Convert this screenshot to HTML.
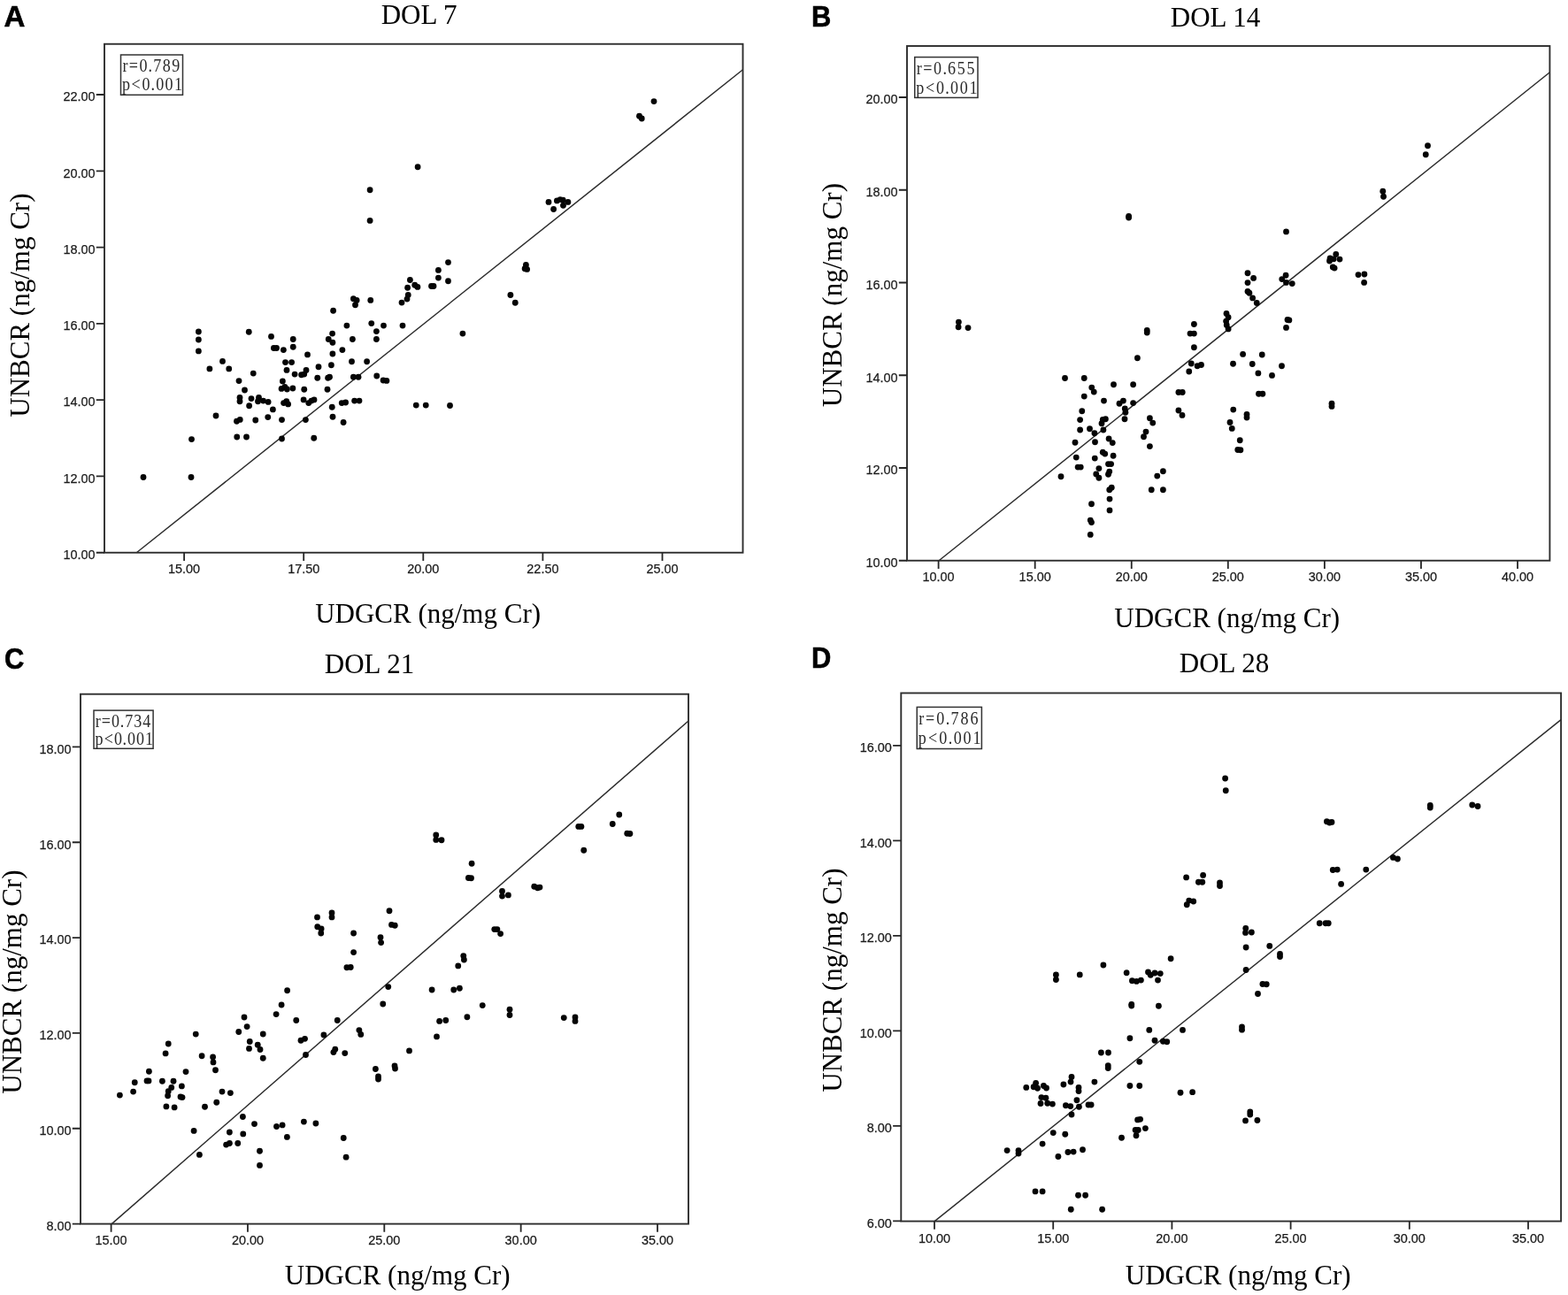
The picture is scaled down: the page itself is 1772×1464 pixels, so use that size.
<!DOCTYPE html>
<html><head><meta charset="utf-8"><title>UNBCR vs UDGCR</title>
<style>
html,body{margin:0;padding:0;background:#fff;}
svg{display:block;}
.tk{font-family:"Liberation Sans",Arial,sans-serif;font-size:15.3px;fill:#1a1a1a;stroke:#1a1a1a;stroke-width:0.25px;}
.ser{font-family:"Liberation Serif","Times New Roman",serif;fill:#000;}
.st{font-family:"Liberation Serif","Times New Roman",serif;font-size:21px;fill:#2a2a2a;}
.lt{font-family:"Liberation Sans",Arial,sans-serif;font-weight:bold;font-size:33px;fill:#000;stroke:#000;stroke-width:0.6px;}
</style></head><body>
<svg width="1772" height="1464" viewBox="0 0 1772 1464">
<rect x="0" y="0" width="1772" height="1464" fill="#fff"/>
<g id="panelA">
<text class="lt" x="4.6" y="30">A</text>
<text class="ser" font-size="31" x="473.6" y="26.6" text-anchor="middle">DOL 7</text>
<line x1="154.3" y1="624.75" x2="839.5" y2="78.8" stroke="#2c2c2c" stroke-width="1.45"/>
<g fill="#050505"><circle cx="224.4" cy="375" r="3.4"/><circle cx="224.4" cy="384" r="3.4"/><circle cx="224.4" cy="396.9" r="3.4"/><circle cx="281.25" cy="375.25" r="3.4"/><circle cx="306.5" cy="380.4" r="3.4"/><circle cx="331.25" cy="383.5" r="3.4"/><circle cx="309.4" cy="393.5" r="3.4"/><circle cx="312.5" cy="393.5" r="3.4"/><circle cx="320.4" cy="395.6" r="3.4"/><circle cx="331.25" cy="392.25" r="3.4"/><circle cx="347.5" cy="400.9" r="3.4"/><circle cx="251.5" cy="408.4" r="3.4"/><circle cx="236.9" cy="416.9" r="3.4"/><circle cx="258.75" cy="416.9" r="3.4"/><circle cx="286.25" cy="422.1" r="3.4"/><circle cx="322.5" cy="409.6" r="3.4"/><circle cx="329.6" cy="409.6" r="3.4"/><circle cx="324" cy="418.4" r="3.4"/><circle cx="333.1" cy="423.1" r="3.4"/><circle cx="340.6" cy="423.75" r="3.4"/><circle cx="343.75" cy="423.1" r="3.4"/><circle cx="346" cy="418.5" r="3.4"/><circle cx="360" cy="414.75" r="3.4"/><circle cx="358.75" cy="427.25" r="3.4"/><circle cx="270" cy="430.6" r="3.4"/><circle cx="319.4" cy="431" r="3.4"/><circle cx="318.1" cy="439.4" r="3.4"/><circle cx="321.9" cy="437.5" r="3.4"/><circle cx="324.4" cy="440" r="3.4"/><circle cx="330.9" cy="439" r="3.4"/><circle cx="343.75" cy="440.25" r="3.4"/><circle cx="276.5" cy="441" r="3.4"/><circle cx="271" cy="449.4" r="3.4"/><circle cx="271" cy="453.75" r="3.4"/><circle cx="284" cy="450.6" r="3.4"/><circle cx="292.5" cy="449.4" r="3.4"/><circle cx="291.5" cy="453.75" r="3.4"/><circle cx="297.5" cy="453.1" r="3.4"/><circle cx="303.1" cy="454.4" r="3.4"/><circle cx="323.75" cy="453.75" r="3.4"/><circle cx="325.6" cy="456.9" r="3.4"/><circle cx="320.6" cy="455.6" r="3.4"/><circle cx="343.1" cy="451.9" r="3.4"/><circle cx="348.75" cy="455.6" r="3.4"/><circle cx="351.9" cy="453.1" r="3.4"/><circle cx="355" cy="451.9" r="3.4"/><circle cx="281.6" cy="458.75" r="3.4"/><circle cx="308.4" cy="462.9" r="3.4"/><circle cx="244" cy="470" r="3.4"/><circle cx="267.5" cy="476.25" r="3.4"/><circle cx="271.25" cy="474.4" r="3.4"/><circle cx="288.75" cy="475" r="3.4"/><circle cx="302.75" cy="471.6" r="3.4"/><circle cx="318.5" cy="474.6" r="3.4"/><circle cx="345.4" cy="474.6" r="3.4"/><circle cx="216.5" cy="496.6" r="3.4"/><circle cx="267.75" cy="494" r="3.4"/><circle cx="278.5" cy="494" r="3.4"/><circle cx="318.5" cy="496" r="3.4"/><circle cx="354.75" cy="495.25" r="3.4"/><circle cx="399.4" cy="337.75" r="3.4"/><circle cx="403.1" cy="339.4" r="3.4"/><circle cx="401.5" cy="344.75" r="3.4"/><circle cx="418.75" cy="339.4" r="3.4"/><circle cx="461.25" cy="333.5" r="3.4"/><circle cx="460" cy="338.1" r="3.4"/><circle cx="454" cy="342.1" r="3.4"/><circle cx="376.6" cy="351.25" r="3.4"/><circle cx="391.9" cy="368.1" r="3.4"/><circle cx="419.75" cy="365.6" r="3.4"/><circle cx="433.5" cy="368.1" r="3.4"/><circle cx="455" cy="368.1" r="3.4"/><circle cx="425.4" cy="374.6" r="3.4"/><circle cx="425.4" cy="383.5" r="3.4"/><circle cx="522.9" cy="377.1" r="3.4"/><circle cx="375.6" cy="377.1" r="3.4"/><circle cx="371.25" cy="383.5" r="3.4"/><circle cx="375.9" cy="387.25" r="3.4"/><circle cx="398.4" cy="383.5" r="3.4"/><circle cx="386.9" cy="395.6" r="3.4"/><circle cx="375.9" cy="400" r="3.4"/><circle cx="397.5" cy="408.75" r="3.4"/><circle cx="414.6" cy="408.75" r="3.4"/><circle cx="374.4" cy="412.75" r="3.4"/><circle cx="370.6" cy="427.25" r="3.4"/><circle cx="372.5" cy="426.25" r="3.4"/><circle cx="399.4" cy="426.25" r="3.4"/><circle cx="405" cy="426.25" r="3.4"/><circle cx="425.75" cy="425" r="3.4"/><circle cx="433.1" cy="430" r="3.4"/><circle cx="436.9" cy="430.4" r="3.4"/><circle cx="370" cy="440.25" r="3.4"/><circle cx="386.25" cy="455.6" r="3.4"/><circle cx="390.6" cy="455" r="3.4"/><circle cx="400.6" cy="453.1" r="3.4"/><circle cx="406" cy="453.1" r="3.4"/><circle cx="375.25" cy="460.25" r="3.4"/><circle cx="470.25" cy="458.1" r="3.4"/><circle cx="481.25" cy="458.1" r="3.4"/><circle cx="508.5" cy="458.5" r="3.4"/><circle cx="376" cy="471.25" r="3.4"/><circle cx="388.1" cy="477.5" r="3.4"/><circle cx="472.1" cy="188.75" r="3.4"/><circle cx="418.1" cy="214.75" r="3.4"/><circle cx="418.1" cy="249.4" r="3.4"/><circle cx="506.5" cy="296.6" r="3.4"/><circle cx="495.4" cy="305.4" r="3.4"/><circle cx="495.4" cy="314.1" r="3.4"/><circle cx="506.5" cy="317.75" r="3.4"/><circle cx="487.5" cy="323.5" r="3.4"/><circle cx="490" cy="323.5" r="3.4"/><circle cx="463.4" cy="316.5" r="3.4"/><circle cx="468.75" cy="322.25" r="3.4"/><circle cx="471.9" cy="324.4" r="3.4"/><circle cx="460.6" cy="325.25" r="3.4"/><circle cx="620" cy="228.4" r="3.4"/><circle cx="625.6" cy="236.5" r="3.4"/><circle cx="629.4" cy="226.9" r="3.4"/><circle cx="633.1" cy="225.6" r="3.4"/><circle cx="636.25" cy="226.25" r="3.4"/><circle cx="636.5" cy="232.25" r="3.4"/><circle cx="641.9" cy="228.4" r="3.4"/><circle cx="594.4" cy="299.4" r="3.4"/><circle cx="593.1" cy="303.75" r="3.4"/><circle cx="595.6" cy="304.4" r="3.4"/><circle cx="576.9" cy="333.5" r="3.4"/><circle cx="582.25" cy="342.25" r="3.4"/><circle cx="739" cy="114.6" r="3.4"/><circle cx="722.5" cy="131.25" r="3.4"/><circle cx="725.25" cy="134" r="3.4"/><circle cx="162" cy="539.5" r="3.4"/><circle cx="216" cy="539.5" r="3.4"/></g>
<rect x="118" y="49.75" width="721.5" height="575" fill="none" stroke="#2e2e2e" stroke-width="1.9"/>
<text class="tk" x="107.5" y="114.3" text-anchor="end" textLength="36.1" lengthAdjust="spacingAndGlyphs">22.00</text>
<text class="tk" x="107.5" y="200.59" text-anchor="end" textLength="36.1" lengthAdjust="spacingAndGlyphs">20.00</text>
<text class="tk" x="107.5" y="286.88" text-anchor="end" textLength="36.1" lengthAdjust="spacingAndGlyphs">18.00</text>
<text class="tk" x="107.5" y="373.17" text-anchor="end" textLength="36.1" lengthAdjust="spacingAndGlyphs">16.00</text>
<text class="tk" x="107.5" y="459.46" text-anchor="end" textLength="36.1" lengthAdjust="spacingAndGlyphs">14.00</text>
<text class="tk" x="107.5" y="545.75" text-anchor="end" textLength="36.1" lengthAdjust="spacingAndGlyphs">12.00</text>
<text class="tk" x="107.5" y="632.04" text-anchor="end" textLength="36.1" lengthAdjust="spacingAndGlyphs">10.00</text>
<text class="tk" x="208.1" y="648.15" text-anchor="middle" textLength="36.1" lengthAdjust="spacingAndGlyphs">15.00</text>
<text class="tk" x="343.2" y="648.15" text-anchor="middle" textLength="36.1" lengthAdjust="spacingAndGlyphs">17.50</text>
<text class="tk" x="478.3" y="648.15" text-anchor="middle" textLength="36.1" lengthAdjust="spacingAndGlyphs">20.00</text>
<text class="tk" x="613.4" y="648.15" text-anchor="middle" textLength="36.1" lengthAdjust="spacingAndGlyphs">22.50</text>
<text class="tk" x="748.5" y="648.15" text-anchor="middle" textLength="36.1" lengthAdjust="spacingAndGlyphs">25.00</text>
<path d="M108.8 107H118M108.8 193.29H118M108.8 279.58H118M108.8 365.87H118M108.8 452.16H118M108.8 538.45H118M108.8 624.74H118M208.1 624.75V633.95M343.2 624.75V633.95M478.3 624.75V633.95M613.4 624.75V633.95M748.5 624.75V633.95" stroke="#262626" stroke-width="1.8" fill="none"/>
<rect x="136.5" y="62" width="70" height="45.3" fill="none" stroke="#333" stroke-width="1.5"/>
<text class="st" font-size="21" transform="scale(0.86 1)" x="160.92 169.44 183.11 194.89 201.42 213.63 225.84" y="80.9">r=0.789</text>
<text class="st" font-size="21" transform="scale(0.86 1)" x="160.51 172.82 186.49 198.27 204.8 217.01 229.22" y="102.2">p&lt;0.001</text>
<text class="ser" font-size="31" x="483.6" y="703.8" text-anchor="middle">UDGCR (ng/mg Cr)</text>
<text class="ser" font-size="31" text-anchor="middle" transform="translate(32.7 345.1) rotate(-90)">UNBCR (ng/mg Cr)</text>
</g>
<g id="panelB">
<text class="lt" x="917.1" y="30" textLength="22.3" lengthAdjust="spacingAndGlyphs">B</text>
<text class="ser" font-size="31" x="1373.5" y="30.3" text-anchor="middle">DOL 14</text>
<line x1="1061.1" y1="633.75" x2="1751.4" y2="81.8" stroke="#2c2c2c" stroke-width="1.45"/>
<g fill="#050505"><circle cx="1203.5" cy="427.5" r="3.4"/><circle cx="1225.25" cy="427.5" r="3.4"/><circle cx="1258.5" cy="434.75" r="3.4"/><circle cx="1280.6" cy="434.75" r="3.4"/><circle cx="1233.75" cy="438.1" r="3.4"/><circle cx="1236.25" cy="443.1" r="3.4"/><circle cx="1225.25" cy="448.1" r="3.4"/><circle cx="1247.5" cy="453.1" r="3.4"/><circle cx="1265" cy="456.25" r="3.4"/><circle cx="1269.4" cy="453.1" r="3.4"/><circle cx="1280.6" cy="455.6" r="3.4"/><circle cx="1271.25" cy="461.9" r="3.4"/><circle cx="1271.9" cy="466.25" r="3.4"/><circle cx="1271" cy="473.75" r="3.4"/><circle cx="1331.9" cy="443.5" r="3.4"/><circle cx="1336.25" cy="443.5" r="3.4"/><circle cx="1331.9" cy="464" r="3.4"/><circle cx="1336" cy="469.4" r="3.4"/><circle cx="1222.75" cy="464.75" r="3.4"/><circle cx="1220.6" cy="474.6" r="3.4"/><circle cx="1246.25" cy="474.4" r="3.4"/><circle cx="1249.4" cy="473.75" r="3.4"/><circle cx="1245" cy="478.75" r="3.4"/><circle cx="1220.6" cy="486" r="3.4"/><circle cx="1231.5" cy="484.75" r="3.4"/><circle cx="1236.9" cy="489.75" r="3.4"/><circle cx="1246.9" cy="486" r="3.4"/><circle cx="1299.4" cy="472.75" r="3.4"/><circle cx="1302.75" cy="478.1" r="3.4"/><circle cx="1295" cy="488.1" r="3.4"/><circle cx="1292.5" cy="493.75" r="3.4"/><circle cx="1299.4" cy="504.6" r="3.4"/><circle cx="1393.75" cy="463.1" r="3.4"/><circle cx="1409" cy="468.5" r="3.4"/><circle cx="1409" cy="472" r="3.4"/><circle cx="1390" cy="477.5" r="3.4"/><circle cx="1392.25" cy="484.4" r="3.4"/><circle cx="1401.25" cy="497.75" r="3.4"/><circle cx="1398.75" cy="508.5" r="3.4"/><circle cx="1401.9" cy="508.75" r="3.4"/><circle cx="1215" cy="500.25" r="3.4"/><circle cx="1237.5" cy="499.75" r="3.4"/><circle cx="1253.1" cy="496" r="3.4"/><circle cx="1257.25" cy="500.6" r="3.4"/><circle cx="1246.25" cy="511.25" r="3.4"/><circle cx="1248.75" cy="513.1" r="3.4"/><circle cx="1258.1" cy="515.25" r="3.4"/><circle cx="1216.25" cy="517.1" r="3.4"/><circle cx="1237.25" cy="518.1" r="3.4"/><circle cx="1218.1" cy="528.1" r="3.4"/><circle cx="1221.25" cy="528.1" r="3.4"/><circle cx="1252.5" cy="524.6" r="3.4"/><circle cx="1255.6" cy="524.6" r="3.4"/><circle cx="1241.9" cy="529.6" r="3.4"/><circle cx="1238.75" cy="536" r="3.4"/><circle cx="1241.9" cy="540.25" r="3.4"/><circle cx="1253.75" cy="533.1" r="3.4"/><circle cx="1252.5" cy="536.25" r="3.4"/><circle cx="1199" cy="538.75" r="3.4"/><circle cx="1314.4" cy="532.75" r="3.4"/><circle cx="1307.75" cy="538.1" r="3.4"/><circle cx="1256.25" cy="551.25" r="3.4"/><circle cx="1253.75" cy="553.75" r="3.4"/><circle cx="1301.25" cy="553.75" r="3.4"/><circle cx="1314.4" cy="553.75" r="3.4"/><circle cx="1254" cy="564.1" r="3.4"/><circle cx="1233.5" cy="569.75" r="3.4"/><circle cx="1254" cy="576.9" r="3.4"/><circle cx="1232.25" cy="588.1" r="3.4"/><circle cx="1233.5" cy="590.6" r="3.4"/><circle cx="1232.25" cy="604.4" r="3.4"/><circle cx="1410" cy="308.75" r="3.4"/><circle cx="1416.6" cy="314.4" r="3.4"/><circle cx="1410" cy="319.6" r="3.4"/><circle cx="1410" cy="329.4" r="3.4"/><circle cx="1411.9" cy="331.25" r="3.4"/><circle cx="1415.6" cy="336.9" r="3.4"/><circle cx="1420.25" cy="342.5" r="3.4"/><circle cx="1453.1" cy="311.25" r="3.4"/><circle cx="1448.75" cy="315.6" r="3.4"/><circle cx="1453.5" cy="319.4" r="3.4"/><circle cx="1460.25" cy="320.6" r="3.4"/><circle cx="1503.1" cy="291.9" r="3.4"/><circle cx="1502.5" cy="295" r="3.4"/><circle cx="1509.75" cy="287.5" r="3.4"/><circle cx="1514" cy="293.1" r="3.4"/><circle cx="1507.2" cy="292.8" r="3.4"/><circle cx="1506.25" cy="301.9" r="3.4"/><circle cx="1508.1" cy="303.1" r="3.4"/><circle cx="1535" cy="310.6" r="3.4"/><circle cx="1541.9" cy="310" r="3.4"/><circle cx="1541.6" cy="319.4" r="3.4"/><circle cx="1386" cy="354.4" r="3.4"/><circle cx="1388.1" cy="358.75" r="3.4"/><circle cx="1385.6" cy="363.1" r="3.4"/><circle cx="1386.25" cy="367.5" r="3.4"/><circle cx="1388.1" cy="371.9" r="3.4"/><circle cx="1349.4" cy="366.5" r="3.4"/><circle cx="1345" cy="377.1" r="3.4"/><circle cx="1349.4" cy="377.1" r="3.4"/><circle cx="1349.4" cy="392.75" r="3.4"/><circle cx="1455" cy="361.5" r="3.4"/><circle cx="1456.9" cy="361.9" r="3.4"/><circle cx="1453.5" cy="370.4" r="3.4"/><circle cx="1404.6" cy="400.4" r="3.4"/><circle cx="1426.25" cy="401" r="3.4"/><circle cx="1346.25" cy="411" r="3.4"/><circle cx="1353.1" cy="413.75" r="3.4"/><circle cx="1357.5" cy="412.5" r="3.4"/><circle cx="1343.75" cy="420" r="3.4"/><circle cx="1393.5" cy="411.25" r="3.4"/><circle cx="1415.25" cy="411.5" r="3.4"/><circle cx="1448.5" cy="413.75" r="3.4"/><circle cx="1421.9" cy="421.9" r="3.4"/><circle cx="1437.5" cy="424.4" r="3.4"/><circle cx="1422.5" cy="445.25" r="3.4"/><circle cx="1426.9" cy="445.25" r="3.4"/><circle cx="1505" cy="456.25" r="3.4"/><circle cx="1505" cy="459.4" r="3.4"/><circle cx="1275.6" cy="244.5" r="3.4"/><circle cx="1275.6" cy="246" r="3.4"/><circle cx="1296.25" cy="373.5" r="3.4"/><circle cx="1296.25" cy="376" r="3.4"/><circle cx="1285.4" cy="404.75" r="3.4"/><circle cx="1083.4" cy="364.1" r="3.4"/><circle cx="1083.1" cy="369.75" r="3.4"/><circle cx="1094" cy="370.6" r="3.4"/><circle cx="1613.5" cy="164.75" r="3.4"/><circle cx="1611.25" cy="174.75" r="3.4"/><circle cx="1562.75" cy="216.25" r="3.4"/><circle cx="1563.5" cy="222.25" r="3.4"/><circle cx="1453.5" cy="261.9" r="3.4"/></g>
<rect x="1025" y="52" width="726.4" height="581.75" fill="none" stroke="#2e2e2e" stroke-width="1.9"/>
<text class="tk" x="1014.5" y="117.3" text-anchor="end" textLength="36.1" lengthAdjust="spacingAndGlyphs">20.00</text>
<text class="tk" x="1014.5" y="222.05" text-anchor="end" textLength="36.1" lengthAdjust="spacingAndGlyphs">18.00</text>
<text class="tk" x="1014.5" y="326.8" text-anchor="end" textLength="36.1" lengthAdjust="spacingAndGlyphs">16.00</text>
<text class="tk" x="1014.5" y="431.55" text-anchor="end" textLength="36.1" lengthAdjust="spacingAndGlyphs">14.00</text>
<text class="tk" x="1014.5" y="536.3" text-anchor="end" textLength="36.1" lengthAdjust="spacingAndGlyphs">12.00</text>
<text class="tk" x="1014.5" y="641.05" text-anchor="end" textLength="36.1" lengthAdjust="spacingAndGlyphs">10.00</text>
<text class="tk" x="1060.6" y="657.15" text-anchor="middle" textLength="36.1" lengthAdjust="spacingAndGlyphs">10.00</text>
<text class="tk" x="1169.67" y="657.15" text-anchor="middle" textLength="36.1" lengthAdjust="spacingAndGlyphs">15.00</text>
<text class="tk" x="1278.74" y="657.15" text-anchor="middle" textLength="36.1" lengthAdjust="spacingAndGlyphs">20.00</text>
<text class="tk" x="1387.81" y="657.15" text-anchor="middle" textLength="36.1" lengthAdjust="spacingAndGlyphs">25.00</text>
<text class="tk" x="1496.88" y="657.15" text-anchor="middle" textLength="36.1" lengthAdjust="spacingAndGlyphs">30.00</text>
<text class="tk" x="1605.95" y="657.15" text-anchor="middle" textLength="36.1" lengthAdjust="spacingAndGlyphs">35.00</text>
<text class="tk" x="1715.02" y="657.15" text-anchor="middle" textLength="36.1" lengthAdjust="spacingAndGlyphs">40.00</text>
<path d="M1015.8 110H1025M1015.8 214.75H1025M1015.8 319.5H1025M1015.8 424.25H1025M1015.8 529H1025M1015.8 633.75H1025M1060.6 633.75V642.95M1169.67 633.75V642.95M1278.74 633.75V642.95M1387.81 633.75V642.95M1496.88 633.75V642.95M1605.95 633.75V642.95M1715.02 633.75V642.95" stroke="#262626" stroke-width="1.8" fill="none"/>
<rect x="1033.75" y="64.6" width="71.25" height="45.8" fill="none" stroke="#333" stroke-width="1.5"/>
<text class="st" font-size="21.38" transform="scale(0.86 1)" x="1204.27 1212.95 1226.86 1238.85 1245.5 1257.92 1270.35" y="84">r=0.655</text>
<text class="st" font-size="21.38" transform="scale(0.86 1)" x="1203.85 1216.39 1230.3 1242.29 1248.94 1261.37 1273.79" y="105.6">p&lt;0.001</text>
<text class="ser" font-size="31" x="1386.75" y="709.2" text-anchor="middle">UDGCR (ng/mg Cr)</text>
<text class="ser" font-size="31" text-anchor="middle" transform="translate(951 333.6) rotate(-90)">UNBCR (ng/mg Cr)</text>
</g>
<g id="panelC">
<text class="lt" x="4.9" y="755.5" textLength="22.3" lengthAdjust="spacingAndGlyphs">C</text>
<text class="ser" font-size="31" x="417.5" y="761" text-anchor="middle">DOL 21</text>
<line x1="126.25" y1="1383.6" x2="778" y2="815" stroke="#2c2c2c" stroke-width="1.45"/>
<g fill="#050505"><circle cx="318.1" cy="1136" r="3.4"/><circle cx="312.1" cy="1146.6" r="3.4"/><circle cx="334.75" cy="1153.5" r="3.4"/><circle cx="276" cy="1150" r="3.4"/><circle cx="279.1" cy="1160.6" r="3.4"/><circle cx="269.75" cy="1166.5" r="3.4"/><circle cx="297.25" cy="1169" r="3.4"/><circle cx="282.25" cy="1177.5" r="3.4"/><circle cx="281.5" cy="1185.4" r="3.4"/><circle cx="291.25" cy="1181.25" r="3.4"/><circle cx="294" cy="1186.5" r="3.4"/><circle cx="297.25" cy="1196.25" r="3.4"/><circle cx="340" cy="1176.25" r="3.4"/><circle cx="344.5" cy="1174.3" r="3.4"/><circle cx="345.5" cy="1192.5" r="3.4"/><circle cx="221.25" cy="1169.1" r="3.4"/><circle cx="190.25" cy="1180" r="3.4"/><circle cx="187.1" cy="1190.9" r="3.4"/><circle cx="228.1" cy="1193.75" r="3.4"/><circle cx="240.6" cy="1195" r="3.4"/><circle cx="241" cy="1200.9" r="3.4"/><circle cx="243.5" cy="1209.75" r="3.4"/><circle cx="210" cy="1211.6" r="3.4"/><circle cx="168.4" cy="1211.25" r="3.4"/><circle cx="166" cy="1221.9" r="3.4"/><circle cx="168" cy="1221.9" r="3.4"/><circle cx="152.25" cy="1223.75" r="3.4"/><circle cx="150.6" cy="1234.1" r="3.4"/><circle cx="135.4" cy="1238.1" r="3.4"/><circle cx="183.4" cy="1222.25" r="3.4"/><circle cx="196" cy="1222.25" r="3.4"/><circle cx="193.75" cy="1229.4" r="3.4"/><circle cx="190.25" cy="1233.75" r="3.4"/><circle cx="189.6" cy="1238.75" r="3.4"/><circle cx="205.4" cy="1227.9" r="3.4"/><circle cx="204" cy="1240" r="3.4"/><circle cx="206" cy="1240.6" r="3.4"/><circle cx="187.9" cy="1250.9" r="3.4"/><circle cx="197.1" cy="1251.9" r="3.4"/><circle cx="251" cy="1234.1" r="3.4"/><circle cx="260.4" cy="1235.6" r="3.4"/><circle cx="244.75" cy="1246.25" r="3.4"/><circle cx="231.5" cy="1251.25" r="3.4"/><circle cx="274.4" cy="1262.5" r="3.4"/><circle cx="287.5" cy="1270.6" r="3.4"/><circle cx="312.5" cy="1273.5" r="3.4"/><circle cx="319.1" cy="1271.9" r="3.4"/><circle cx="343.4" cy="1268.1" r="3.4"/><circle cx="324.4" cy="1285.4" r="3.4"/><circle cx="219.1" cy="1278.4" r="3.4"/><circle cx="259.4" cy="1280" r="3.4"/><circle cx="274.75" cy="1281.9" r="3.4"/><circle cx="255.6" cy="1294.1" r="3.4"/><circle cx="259.4" cy="1292.5" r="3.4"/><circle cx="268.75" cy="1292.5" r="3.4"/><circle cx="293.5" cy="1301.25" r="3.4"/><circle cx="225.4" cy="1305.4" r="3.4"/><circle cx="391.9" cy="1093.75" r="3.4"/><circle cx="396.25" cy="1093.5" r="3.4"/><circle cx="517.75" cy="1091.9" r="3.4"/><circle cx="438.75" cy="1115.6" r="3.4"/><circle cx="488.1" cy="1119" r="3.4"/><circle cx="512.75" cy="1119" r="3.4"/><circle cx="519.4" cy="1117.25" r="3.4"/><circle cx="432.75" cy="1135" r="3.4"/><circle cx="545.25" cy="1136.6" r="3.4"/><circle cx="527.9" cy="1149.75" r="3.4"/><circle cx="496.6" cy="1154.4" r="3.4"/><circle cx="503.75" cy="1153.5" r="3.4"/><circle cx="493.5" cy="1171.9" r="3.4"/><circle cx="381.25" cy="1153.5" r="3.4"/><circle cx="405.9" cy="1164.6" r="3.4"/><circle cx="407.75" cy="1169.4" r="3.4"/><circle cx="365.9" cy="1170" r="3.4"/><circle cx="378.75" cy="1186.25" r="3.4"/><circle cx="376.9" cy="1189.6" r="3.4"/><circle cx="389.75" cy="1190.6" r="3.4"/><circle cx="462.5" cy="1187.9" r="3.4"/><circle cx="424.4" cy="1208.5" r="3.4"/><circle cx="446" cy="1205" r="3.4"/><circle cx="446.5" cy="1208" r="3.4"/><circle cx="427.5" cy="1217" r="3.4"/><circle cx="427.5" cy="1220" r="3.4"/><circle cx="356.9" cy="1270" r="3.4"/><circle cx="388.25" cy="1286.5" r="3.4"/><circle cx="391.1" cy="1308.2" r="3.4"/><circle cx="492.75" cy="944" r="3.4"/><circle cx="492.75" cy="949.4" r="3.4"/><circle cx="499" cy="949.75" r="3.4"/><circle cx="533.1" cy="976.25" r="3.4"/><circle cx="529.4" cy="992.5" r="3.4"/><circle cx="532.5" cy="992.75" r="3.4"/><circle cx="358.5" cy="1036.9" r="3.4"/><circle cx="375" cy="1031.9" r="3.4"/><circle cx="375" cy="1036.9" r="3.4"/><circle cx="358.75" cy="1047.75" r="3.4"/><circle cx="363.1" cy="1050" r="3.4"/><circle cx="362.75" cy="1055" r="3.4"/><circle cx="440" cy="1029.75" r="3.4"/><circle cx="442.5" cy="1045.4" r="3.4"/><circle cx="446.25" cy="1046.25" r="3.4"/><circle cx="399.6" cy="1055" r="3.4"/><circle cx="430" cy="1059.75" r="3.4"/><circle cx="430.6" cy="1065.6" r="3.4"/><circle cx="399.6" cy="1076.6" r="3.4"/><circle cx="523.75" cy="1080.6" r="3.4"/><circle cx="524.4" cy="1085" r="3.4"/><circle cx="699.75" cy="921" r="3.4"/><circle cx="692.25" cy="931.5" r="3.4"/><circle cx="653.75" cy="934.4" r="3.4"/><circle cx="656.9" cy="934.4" r="3.4"/><circle cx="708.75" cy="942.25" r="3.4"/><circle cx="711.9" cy="942.5" r="3.4"/><circle cx="659.75" cy="961.25" r="3.4"/><circle cx="567.5" cy="1007.5" r="3.4"/><circle cx="567.5" cy="1013.1" r="3.4"/><circle cx="574.4" cy="1011.9" r="3.4"/><circle cx="603.75" cy="1002.25" r="3.4"/><circle cx="607.5" cy="1003.75" r="3.4"/><circle cx="610" cy="1003.1" r="3.4"/><circle cx="558.75" cy="1050.6" r="3.4"/><circle cx="561.9" cy="1050.6" r="3.4"/><circle cx="565.6" cy="1055.6" r="3.4"/><circle cx="576" cy="1141.25" r="3.4"/><circle cx="576" cy="1147.5" r="3.4"/><circle cx="637.25" cy="1150.6" r="3.4"/><circle cx="650" cy="1150" r="3.4"/><circle cx="650" cy="1154.4" r="3.4"/><circle cx="324.6" cy="1119.75" r="3.4"/><circle cx="293.5" cy="1317.4" r="3.4"/></g>
<rect x="91" y="784.7" width="687" height="598.9" fill="none" stroke="#2e2e2e" stroke-width="1.9"/>
<text class="tk" x="80.5" y="851.7" text-anchor="end" textLength="36.1" lengthAdjust="spacingAndGlyphs">18.00</text>
<text class="tk" x="80.5" y="959.54" text-anchor="end" textLength="36.1" lengthAdjust="spacingAndGlyphs">16.00</text>
<text class="tk" x="80.5" y="1067.38" text-anchor="end" textLength="36.1" lengthAdjust="spacingAndGlyphs">14.00</text>
<text class="tk" x="80.5" y="1175.22" text-anchor="end" textLength="36.1" lengthAdjust="spacingAndGlyphs">12.00</text>
<text class="tk" x="80.5" y="1283.06" text-anchor="end" textLength="36.1" lengthAdjust="spacingAndGlyphs">10.00</text>
<text class="tk" x="80.5" y="1390.9" text-anchor="end" textLength="28.1" lengthAdjust="spacingAndGlyphs">8.00</text>
<text class="tk" x="125.6" y="1407" text-anchor="middle" textLength="36.1" lengthAdjust="spacingAndGlyphs">15.00</text>
<text class="tk" x="279.95" y="1407" text-anchor="middle" textLength="36.1" lengthAdjust="spacingAndGlyphs">20.00</text>
<text class="tk" x="434.3" y="1407" text-anchor="middle" textLength="36.1" lengthAdjust="spacingAndGlyphs">25.00</text>
<text class="tk" x="588.65" y="1407" text-anchor="middle" textLength="36.1" lengthAdjust="spacingAndGlyphs">30.00</text>
<text class="tk" x="743" y="1407" text-anchor="middle" textLength="36.1" lengthAdjust="spacingAndGlyphs">35.00</text>
<path d="M81.8 844.4H91M81.8 952.24H91M81.8 1060.08H91M81.8 1167.92H91M81.8 1275.76H91M81.8 1383.6H91M125.6 1383.6V1392.8M279.95 1383.6V1392.8M434.3 1383.6V1392.8M588.65 1383.6V1392.8M743 1383.6V1392.8" stroke="#262626" stroke-width="1.8" fill="none"/>
<rect x="106" y="803.1" width="67.1" height="43.15" fill="none" stroke="#333" stroke-width="1.5"/>
<text class="st" font-size="20.13" transform="scale(0.86 1)" x="125.36 133.53 146.63 157.93 164.19 175.89 187.59" y="822">r=0.734</text>
<text class="st" font-size="20.13" transform="scale(0.86 1)" x="124.97 136.78 149.87 161.17 167.43 179.13 190.83" y="841.9">p&lt;0.001</text>
<text class="ser" font-size="31" x="449.25" y="1452.2" text-anchor="middle">UDGCR (ng/mg Cr)</text>
<text class="ser" font-size="31" text-anchor="middle" transform="translate(24.2 1110.1) rotate(-90)">UNBCR (ng/mg Cr)</text>
</g>
<g id="panelD">
<text class="lt" x="917.1" y="755" textLength="22.3" lengthAdjust="spacingAndGlyphs">D</text>
<text class="ser" font-size="31" x="1383.5" y="759.7" text-anchor="middle">DOL 28</text>
<line x1="1056.2" y1="1380.6" x2="1764.1" y2="813.6" stroke="#2c2c2c" stroke-width="1.45"/>
<g fill="#050505"><circle cx="1244.4" cy="1190" r="3.4"/><circle cx="1252.5" cy="1190" r="3.4"/><circle cx="1287.75" cy="1200.3" r="3.4"/><circle cx="1252.25" cy="1204.75" r="3.4"/><circle cx="1252.25" cy="1207.5" r="3.4"/><circle cx="1211" cy="1217.5" r="3.4"/><circle cx="1210" cy="1223.1" r="3.4"/><circle cx="1236.9" cy="1223.1" r="3.4"/><circle cx="1201.9" cy="1226" r="3.4"/><circle cx="1159.75" cy="1229.4" r="3.4"/><circle cx="1170.6" cy="1224.4" r="3.4"/><circle cx="1168.1" cy="1228.75" r="3.4"/><circle cx="1172.5" cy="1230.25" r="3.4"/><circle cx="1179.4" cy="1227.5" r="3.4"/><circle cx="1182.5" cy="1230" r="3.4"/><circle cx="1219" cy="1229.4" r="3.4"/><circle cx="1219" cy="1233.5" r="3.4"/><circle cx="1276.9" cy="1227.5" r="3.4"/><circle cx="1287.75" cy="1227.5" r="3.4"/><circle cx="1334" cy="1235.25" r="3.4"/><circle cx="1347.6" cy="1234.7" r="3.4"/><circle cx="1176.9" cy="1240.6" r="3.4"/><circle cx="1181.9" cy="1241.25" r="3.4"/><circle cx="1176" cy="1247.5" r="3.4"/><circle cx="1183.75" cy="1247.25" r="3.4"/><circle cx="1189.4" cy="1248.1" r="3.4"/><circle cx="1216.9" cy="1243.75" r="3.4"/><circle cx="1204.4" cy="1249.75" r="3.4"/><circle cx="1209.75" cy="1250.6" r="3.4"/><circle cx="1219.4" cy="1251.25" r="3.4"/><circle cx="1230" cy="1249" r="3.4"/><circle cx="1233.1" cy="1249" r="3.4"/><circle cx="1211" cy="1260" r="3.4"/><circle cx="1285.6" cy="1265.9" r="3.4"/><circle cx="1288.6" cy="1265.3" r="3.4"/><circle cx="1283.1" cy="1277.5" r="3.4"/><circle cx="1286.25" cy="1277.5" r="3.4"/><circle cx="1284" cy="1283.75" r="3.4"/><circle cx="1294.4" cy="1275.6" r="3.4"/><circle cx="1267.5" cy="1286.25" r="3.4"/><circle cx="1190.25" cy="1280.6" r="3.4"/><circle cx="1203.75" cy="1282.25" r="3.4"/><circle cx="1178.1" cy="1293.1" r="3.4"/><circle cx="1138.1" cy="1300.6" r="3.4"/><circle cx="1151" cy="1300.6" r="3.4"/><circle cx="1151" cy="1304" r="3.4"/><circle cx="1206.9" cy="1302.5" r="3.4"/><circle cx="1213.1" cy="1302.1" r="3.4"/><circle cx="1223.5" cy="1299.75" r="3.4"/><circle cx="1195.9" cy="1307.5" r="3.4"/><circle cx="1170" cy="1346.9" r="3.4"/><circle cx="1178.1" cy="1346.9" r="3.4"/><circle cx="1218.5" cy="1351.25" r="3.4"/><circle cx="1226.6" cy="1351.25" r="3.4"/><circle cx="1210.25" cy="1367.25" r="3.4"/><circle cx="1245.6" cy="1367.25" r="3.4"/><circle cx="1323.1" cy="1083.75" r="3.4"/><circle cx="1246.9" cy="1091" r="3.4"/><circle cx="1193.4" cy="1101.9" r="3.4"/><circle cx="1193.4" cy="1107.5" r="3.4"/><circle cx="1220.25" cy="1101.9" r="3.4"/><circle cx="1273.1" cy="1099.75" r="3.4"/><circle cx="1279.4" cy="1108.75" r="3.4"/><circle cx="1284.4" cy="1109.4" r="3.4"/><circle cx="1289.4" cy="1108.1" r="3.4"/><circle cx="1297.5" cy="1099" r="3.4"/><circle cx="1300.25" cy="1102.25" r="3.4"/><circle cx="1305" cy="1100" r="3.4"/><circle cx="1311.25" cy="1100.6" r="3.4"/><circle cx="1308.5" cy="1108.1" r="3.4"/><circle cx="1278.75" cy="1135.5" r="3.4"/><circle cx="1278.75" cy="1137" r="3.4"/><circle cx="1309.4" cy="1137.25" r="3.4"/><circle cx="1298.75" cy="1164.4" r="3.4"/><circle cx="1336.5" cy="1164.4" r="3.4"/><circle cx="1276.9" cy="1173.75" r="3.4"/><circle cx="1305" cy="1176.25" r="3.4"/><circle cx="1314.4" cy="1177.25" r="3.4"/><circle cx="1318.75" cy="1177.75" r="3.4"/><circle cx="1491.25" cy="1043.75" r="3.4"/><circle cx="1498.1" cy="1043.75" r="3.4"/><circle cx="1501.25" cy="1043.75" r="3.4"/><circle cx="1407.75" cy="1049.4" r="3.4"/><circle cx="1407.5" cy="1054.4" r="3.4"/><circle cx="1414.4" cy="1054" r="3.4"/><circle cx="1408.1" cy="1071" r="3.4"/><circle cx="1434.75" cy="1069.4" r="3.4"/><circle cx="1446.5" cy="1078.5" r="3.4"/><circle cx="1446.5" cy="1081.5" r="3.4"/><circle cx="1408.1" cy="1096.5" r="3.4"/><circle cx="1426.9" cy="1112.5" r="3.4"/><circle cx="1431.25" cy="1112.75" r="3.4"/><circle cx="1421.5" cy="1123.5" r="3.4"/><circle cx="1403.5" cy="1160.8" r="3.4"/><circle cx="1403.5" cy="1164.2" r="3.4"/><circle cx="1384.6" cy="880" r="3.4"/><circle cx="1385.25" cy="893.75" r="3.4"/><circle cx="1499.4" cy="928.75" r="3.4"/><circle cx="1502.5" cy="930" r="3.4"/><circle cx="1505" cy="929.4" r="3.4"/><circle cx="1340.6" cy="991.9" r="3.4"/><circle cx="1359.6" cy="989.4" r="3.4"/><circle cx="1354.4" cy="997.25" r="3.4"/><circle cx="1358.75" cy="997.25" r="3.4"/><circle cx="1378.5" cy="998" r="3.4"/><circle cx="1378.5" cy="1001.5" r="3.4"/><circle cx="1343.75" cy="1018.1" r="3.4"/><circle cx="1348.75" cy="1019" r="3.4"/><circle cx="1341.25" cy="1022.75" r="3.4"/><circle cx="1506.25" cy="983.5" r="3.4"/><circle cx="1511.25" cy="983.1" r="3.4"/><circle cx="1515.6" cy="999.4" r="3.4"/><circle cx="1616.25" cy="910.5" r="3.4"/><circle cx="1616.25" cy="913" r="3.4"/><circle cx="1663.75" cy="910" r="3.4"/><circle cx="1670" cy="911.5" r="3.4"/><circle cx="1574.4" cy="969.4" r="3.4"/><circle cx="1579.4" cy="971" r="3.4"/><circle cx="1543.75" cy="983.1" r="3.4"/><circle cx="1412.75" cy="1256.9" r="3.4"/><circle cx="1412.75" cy="1260" r="3.4"/><circle cx="1407.5" cy="1266.9" r="3.4"/><circle cx="1420.9" cy="1266.5" r="3.4"/></g>
<rect x="1018.3" y="783.5" width="745.8" height="597.1" fill="none" stroke="#2e2e2e" stroke-width="1.9"/>
<text class="tk" x="1007.8" y="850.2" text-anchor="end" textLength="36.1" lengthAdjust="spacingAndGlyphs">16.00</text>
<text class="tk" x="1007.8" y="957.7" text-anchor="end" textLength="36.1" lengthAdjust="spacingAndGlyphs">14.00</text>
<text class="tk" x="1007.8" y="1065.2" text-anchor="end" textLength="36.1" lengthAdjust="spacingAndGlyphs">12.00</text>
<text class="tk" x="1007.8" y="1172.7" text-anchor="end" textLength="36.1" lengthAdjust="spacingAndGlyphs">10.00</text>
<text class="tk" x="1007.8" y="1280.2" text-anchor="end" textLength="28.1" lengthAdjust="spacingAndGlyphs">8.00</text>
<text class="tk" x="1007.8" y="1387.7" text-anchor="end" textLength="28.1" lengthAdjust="spacingAndGlyphs">6.00</text>
<text class="tk" x="1056" y="1404.8" text-anchor="middle" textLength="36.1" lengthAdjust="spacingAndGlyphs">10.00</text>
<text class="tk" x="1190.2" y="1404.8" text-anchor="middle" textLength="36.1" lengthAdjust="spacingAndGlyphs">15.00</text>
<text class="tk" x="1324.4" y="1404.8" text-anchor="middle" textLength="36.1" lengthAdjust="spacingAndGlyphs">20.00</text>
<text class="tk" x="1458.6" y="1404.8" text-anchor="middle" textLength="36.1" lengthAdjust="spacingAndGlyphs">25.00</text>
<text class="tk" x="1592.8" y="1404.8" text-anchor="middle" textLength="36.1" lengthAdjust="spacingAndGlyphs">30.00</text>
<text class="tk" x="1727" y="1404.8" text-anchor="middle" textLength="36.1" lengthAdjust="spacingAndGlyphs">35.00</text>
<path d="M1009.1 842.9H1018.3M1009.1 950.4H1018.3M1009.1 1057.9H1018.3M1009.1 1165.4H1018.3M1009.1 1272.9H1018.3M1009.1 1380.4H1018.3M1056 1380.6V1389.8M1190.2 1380.6V1389.8M1324.4 1380.6V1389.8M1458.6 1380.6V1389.8M1592.8 1380.6V1389.8M1727 1380.6V1389.8" stroke="#262626" stroke-width="1.8" fill="none"/>
<rect x="1036.25" y="799.4" width="73.15" height="47.1" fill="none" stroke="#333" stroke-width="1.5"/>
<text class="st" font-size="21.95" transform="scale(0.86 1)" x="1207.24 1216.15 1230.43 1242.74 1249.56 1262.32 1275.08" y="819">r=0.786</text>
<text class="st" font-size="21.95" transform="scale(0.86 1)" x="1206.81 1219.68 1233.96 1246.27 1253.1 1265.85 1278.61" y="841.25">p&lt;0.001</text>
<text class="ser" font-size="31" x="1399.25" y="1452" text-anchor="middle">UDGCR (ng/mg Cr)</text>
<text class="ser" font-size="31" text-anchor="middle" transform="translate(951 1108.1) rotate(-90)">UNBCR (ng/mg Cr)</text>
</g>
</svg>
</body></html>
